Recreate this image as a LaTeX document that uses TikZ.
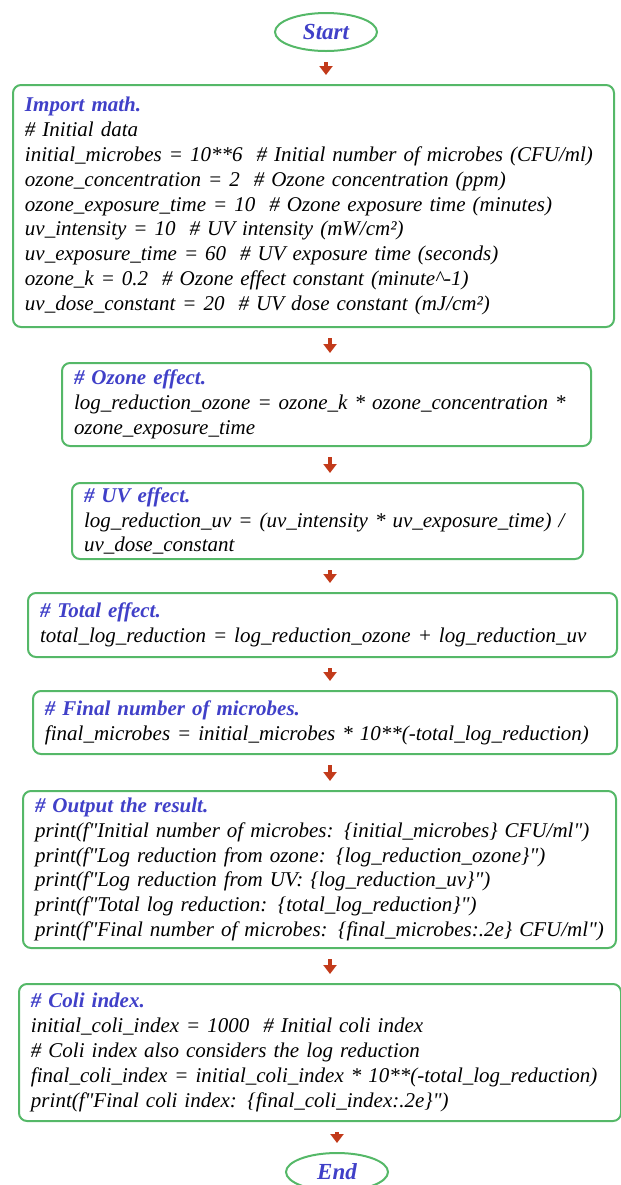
\documentclass[tikz,border=0pt]{standalone}
\usepackage{fontspec}
\newfontfamily\codefont{Liberation Serif}
\usetikzlibrary{arrows.meta,shapes.geometric,positioning}
\definecolor{fcGreen}{HTML}{55B868}
\definecolor{fcBlue}{HTML}{4040C8}
\definecolor{fcArrow}{HTML}{C23A1A}
\newcommand{\hd}[1]{{\bfseries\color{fcBlue}#1}}

\begin{document}
\begin{tikzpicture}[
      x=0.5pt, y=-0.5pt,
      font=\codefont\itshape\fontsize{10.5}{12.4}\selectfont,
      codebox/.style={draw=fcGreen, line width=1pt, rounded corners=4pt,
                  anchor=north west, align=left, inner xsep=6pt, inner ysep=1pt},
      termnode/.style={ellipse, draw=fcGreen, line width=1pt, inner sep=0pt,
                  minimum width=51pt, minimum height=19pt,
                  font=\codefont\bfseries\itshape\fontsize{11.5}{13}\selectfont,
                  text=fcBlue},
      flow/.style={fcArrow, line width=2pt, -{Triangle[width=6.5pt,length=4.5pt]},
                  shorten <=5pt, shorten >=4.5pt},
    ]
    \useasboundingbox (0,0) rectangle (621,1185);

    % ---------- start ----------
    \node[termnode] (start) at (326,32) {Start};
    \coordinate (axis) at (330,0);

    % ---------- data ----------
    \node[codebox, text width=288.5pt, minimum height=121pt] (data) at (12,84)
      {\hd{Import math.}\\
       \# Initial data\\
       initial\_microbes = 10**6~ \# Initial number of microbes (CFU/ml)\\
       ozone\_concentration = 2~ \# Ozone concentration (ppm)\\
       ozone\_exposure\_time = 10~ \# Ozone exposure time (minutes)\\
       uv\_intensity = 10~ \# UV intensity (mW/cm²)\\
       uv\_exposure\_time = 60~ \# UV exposure time (seconds)\\
       ozone\_k = 0.2~ \# Ozone effect constant (minute\textasciicircum-1)\\
       uv\_dose\_constant = 20~ \# UV dose constant (mJ/cm²)};

    % ---------- ozone ----------
    \node[codebox, text width=252.5pt, minimum height=41.5pt] (ozone) at (61,362)
      {\hd{\# Ozone effect.}\\
       log\_reduction\_ozone = ozone\_k * ozone\_concentration *\\
       ozone\_exposure\_time};

    % ---------- uv ----------
    \node[codebox, text width=243.5pt, minimum height=38pt] (uv) at (71,482)
      {\hd{\# UV effect.}\\
       log\_reduction\_uv = (uv\_intensity * uv\_exposure\_time) /\\
       uv\_dose\_constant};

    % ---------- total ----------
    \node[codebox, text width=282.5pt, minimum height=32pt] (total) at (27,592)
      {\hd{\# Total effect.}\\
       total\_log\_reduction = log\_reduction\_ozone + log\_reduction\_uv};

    % ---------- final ----------
    \node[codebox, text width=280pt, minimum height=31.5pt] (final) at (32,690)
      {\hd{\# Final number of microbes.}\\
       final\_microbes = initial\_microbes * 10**(-total\_log\_reduction)};

    % ---------- output ----------
    \node[codebox, text width=284.5pt, minimum height=78.5pt] (output) at (22,790)
      {\hd{\# Output the result.}\\
       print(f"Initial number of microbes: \{initial\_microbes\} CFU/ml")\\
       print(f"Log reduction from ozone: \{log\_reduction\_ozone\}")\\
       print(f"Log reduction from UV: \{log\_reduction\_uv\}")\\
       print(f"Total log reduction: \{total\_log\_reduction\}")\\
       print(f"Final number of microbes: \{final\_microbes:.2e\} CFU/ml")};

    % ---------- coli ----------
    \node[codebox, text width=289pt, minimum height=68.5pt] (coli) at (18,983)
      {\hd{\# Coli index.}\\
       initial\_coli\_index = 1000~ \# Initial coli index\\
       \# Coli index also considers the log reduction\\
       final\_coli\_index = initial\_coli\_index * 10**(-total\_log\_reduction)\\
       print(f"Final coli index: \{final\_coli\_index:.2e\}")};

    % ---------- end ----------
    \node[termnode] (stop) at (337,1172) {End};

    % ---------- arrows ----------
    \draw[flow] (start.south) -- (start.south |- data.north);
    \draw[flow] (data.south -| axis) -- (ozone.north -| axis);
    \draw[flow] (ozone.south -| axis) -- (uv.north -| axis);
    \draw[flow] (uv.south -| axis) -- (total.north -| axis);
    \draw[flow] (total.south -| axis) -- (final.north -| axis);
    \draw[flow] (final.south -| axis) -- (output.north -| axis);
    \draw[flow] (output.south -| axis) -- (coli.north -| axis);
    \draw[flow] (coli.south -| stop) -- (stop.north);

  \end{tikzpicture}
\end{document}
